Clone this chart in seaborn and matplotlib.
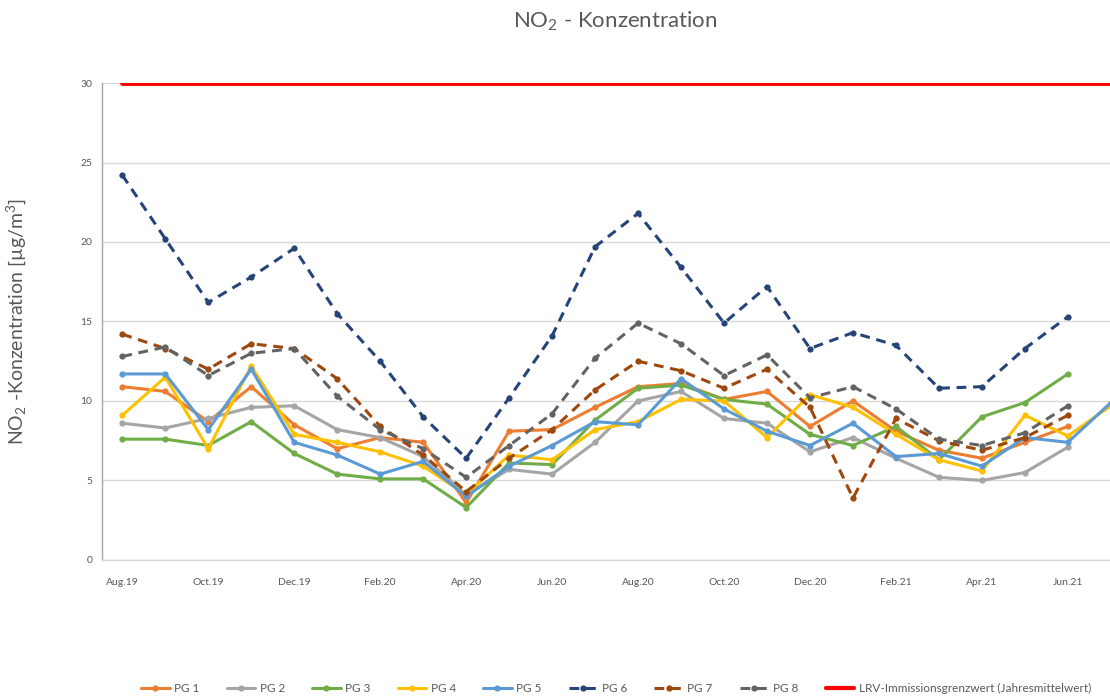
import matplotlib
matplotlib.use("Agg")
import matplotlib.pyplot as plt
import seaborn as sns
import pandas as pd
from matplotlib.lines import Line2D

months = ["Aug.19", "Sep.19", "Oct.19", "Nov.19", "Dec.19", "Jan.20", "Feb.20", "Mar.20",
          "Apr.20", "May.20", "Jun.20", "Jul.20", "Aug.20", "Sep.20", "Oct.20", "Nov.20",
          "Dec.20", "Jan.21", "Feb.21", "Mar.21", "Apr.21", "May.21", "Jun.21", "Jul.21"]

pg1 = [10.9, 10.6, 8.7, 10.9, 8.5, 7.0, 7.7, 7.4, 3.6, 8.1, 8.2, 9.6, 10.9, 11.1, 10.1, 10.6,
       8.4, 10.0, 8.1, 6.9, 6.4, 7.4, 8.4, None]
pg2 = [8.6, 8.3, 8.9, 9.6, 9.7, 8.2, 7.7, 6.5, 4.1, 5.7, 5.4, 7.4, 10.0, 10.6, 8.9, 8.6,
       6.8, 7.7, 6.4, 5.2, 5.0, 5.5, 7.1, None]
pg3 = [7.6, 7.6, 7.2, 8.7, 6.7, 5.4, 5.1, 5.1, 3.3, 6.1, 6.0, 8.8, 10.8, 11.0, 10.1, 9.8,
       7.9, 7.2, 8.4, 6.3, 9.0, 9.9, 11.7, None]
pg4 = [9.1, 11.5, 7.0, 12.2, 7.9, 7.4, 6.8, 5.9, 4.1, 6.6, 6.3, 8.2, 8.7, 10.1, 10.0, 7.7,
       10.4, 9.6, 7.9, 6.3, 5.6, 9.1, 7.8, 9.7]
pg5 = [11.7, 11.7, 8.2, 12.0, 7.4, 6.6, 5.4, 6.2, 4.0, 5.9, 7.2, 8.7, 8.5, 11.4, 9.5, 8.1,
       7.2, 8.6, 6.5, 6.7, 5.9, 7.7, 7.4, 9.9]
pg6 = [24.2, 20.2, 16.2, 17.8, 19.6, 15.5, 12.5, 9.0, 6.4, 10.2, 14.1, 19.7, 21.8, 18.4, 14.9, 17.2,
       13.3, 14.3, 13.5, 10.8, 10.9, 13.3, 15.3, None]
pg7 = [14.2, 13.3, 12.0, 13.6, 13.3, 11.4, 8.4, 6.6, 4.3, 6.4, 8.2, 10.7, 12.5, 11.9, 10.8, 12.0,
       9.6, 3.9, 8.9, 7.5, 6.9, 7.7, 9.1, None]
pg8 = [12.8, 13.4, 11.6, 13.0, 13.3, 10.3, 8.2, 7.0, 5.2, 7.2, 9.2, 12.7, 14.9, 13.6, 11.6, 12.9,
       10.2, 10.9, 9.5, 7.6, 7.2, 8.0, 9.7, None]
limit = [30] * len(months)

series_names = ["PG 1", "PG 2", "PG 3", "PG 4", "PG 5", "PG 6", "PG 7", "PG 8"]
series_values = [pg1, pg2, pg3, pg4, pg5, pg6, pg7, pg8]
limit_name = "LRV-Immissionsgrenzwert (Jahresmittelwert)"

colors = ["#ED7D31", "#A5A5A5", "#70AD47", "#FFC000", "#5B9BD5", "#264478", "#9E480E", "#636363"]
dashed = [False, False, False, False, False, True, True, True]

sns.set_theme(style="white")
plt.rcParams["font.family"] = ["Lato", "DejaVu Sans"]
plt.rcParams["mathtext.fontset"] = "custom"
plt.rcParams["mathtext.rm"] = "Lato"
plt.rcParams["mathtext.it"] = "Lato:italic"

fig = plt.figure(figsize=(11.1, 6.97), dpi=100)
ax = fig.add_axes([0.092, 0.1966, 0.908, 0.6843])

x = list(range(len(months)))
handles = []
for name, vals, col, dsh in zip(series_names, series_values, colors, dashed):
    df = pd.DataFrame({"x": x, "y": vals}).dropna()
    ls = (0, (3.2, 2.2)) if dsh else "-"
    sns.lineplot(data=df, x="x", y="y", ax=ax, color=col, linewidth=2.2,
                 linestyle=ls, marker="o", markersize=4.5, markeredgewidth=0,
                 label=name, legend=False)
    handles.append(Line2D([0], [0], color=col, linewidth=2.2, linestyle=ls,
                          marker="o", markersize=4.5, markeredgewidth=0))

df_lim = pd.DataFrame({"x": x, "y": limit})
sns.lineplot(data=df_lim, x="x", y="y", ax=ax, color="#FF0000", linewidth=3.5, legend=False)
handles.append(Line2D([0], [0], color="#FF0000", linewidth=3.0))

ax.set_xlim(-0.47, 22.98)
ax.set_ylim(0, 30)
ax.set_yticks([0, 5, 10, 15, 20, 25, 30])
ax.set_xticks(x[::2])
ax.set_xticklabels(months[::2])
ax.tick_params(axis="y", labelsize=7.5, colors="#595959", length=0, pad=7)
ax.tick_params(axis="x", labelsize=7.5, colors="#595959", length=0, pad=13)
ax.yaxis.grid(True, color="#D9D9D9", linewidth=1)
ax.xaxis.grid(False)
for s in ["top", "right"]:
    ax.spines[s].set_visible(False)
ax.spines["left"].set_color("#A6A6A6")
ax.spines["bottom"].set_color("#D9D9D9")
ax.spines["left"].set_linewidth(1)
ax.spines["bottom"].set_linewidth(1)
ax.set_xlabel("")
ax.set_ylabel(r"NO$_2$ -Konzentration [µg/m$^3$]", fontsize=14, color="#595959", labelpad=38)

fig.text(0.554, 0.97, r"NO$_2$ - Konzentration", ha="center", va="center",
         fontsize=16, color="#595959")

fig.legend(handles, series_names + [limit_name], loc="center", bbox_to_anchor=(0.555, 0.012),
           ncol=9, frameon=False, fontsize=8.5, handlelength=2.4, columnspacing=2.3,
           handletextpad=0.4, labelcolor="#595959")

fig.savefig("out.png", dpi=100)
